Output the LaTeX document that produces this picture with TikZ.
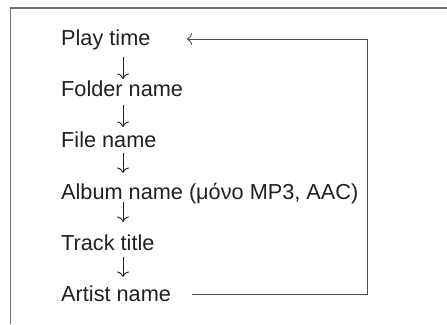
\documentclass[tikz,border=0pt]{standalone}
\usepackage{fontspec}
\setmainfont{Liberation Sans}
\usetikzlibrary{arrows.meta,calc}
\definecolor{txt}{HTML}{231F20}
\definecolor{framec}{HTML}{707070}
\definecolor{loopc}{HTML}{505050}
\begin{document}
\begin{tikzpicture}[x=1pt,y=-1pt,
  item/.style={anchor=base west,inner sep=0pt,text=txt,font=\fontsize{21.7}{24}\selectfont},
  down/.style={draw=txt,line width=0.9pt,-{To[length=5.5pt,width=12pt]}},
  loopline/.style={draw=loopc,line width=0.9pt},
  frameline/.style={draw=framec,line width=1.2pt}]
\useasboundingbox (0,0) rectangle (447,324);
\draw[frameline] (10.5,324) -- (10.5,8) -- (447,8);
\node[item] (play) at (61,45) {Play time};
\node[item] (folder) at (61,96) {Folder name};
\node[item] (file) at (61,147) {File name};
\node[item] (album) at (61,199) {Album name (μόνο MP3, AAC)};
\node[item] (track) at (61,250) {Track title};
\node[item] (artist) at (61,301) {Artist name};
\draw[down] ($(play.base west)+(62,12)$) -- ($(folder.base west)+(62,-17)$);
\draw[down] ($(folder.base west)+(62,9)$) -- ($(file.base west)+(62,-20)$);
\draw[down] ($(file.base west)+(62,6)$) -- ($(album.base west)+(62,-26)$);
\draw[down] ($(album.base west)+(62,3)$) -- ($(track.base west)+(62,-28)$);
\draw[down] ($(track.base west)+(62,7)$) -- ($(artist.base west)+(62,-24)$);
\coordinate (lr) at (367,0);
\coordinate (a1) at ($(artist.base east)+(21,-7)$);
\coordinate (p1) at ($(play.base east)+(36,-6)$);
\draw[loopline,-{To[length=5.5pt,width=12pt]}] (a1) -- (a1 -| lr) -- (p1 -| lr) -- (p1);
\end{tikzpicture}
\end{document}
